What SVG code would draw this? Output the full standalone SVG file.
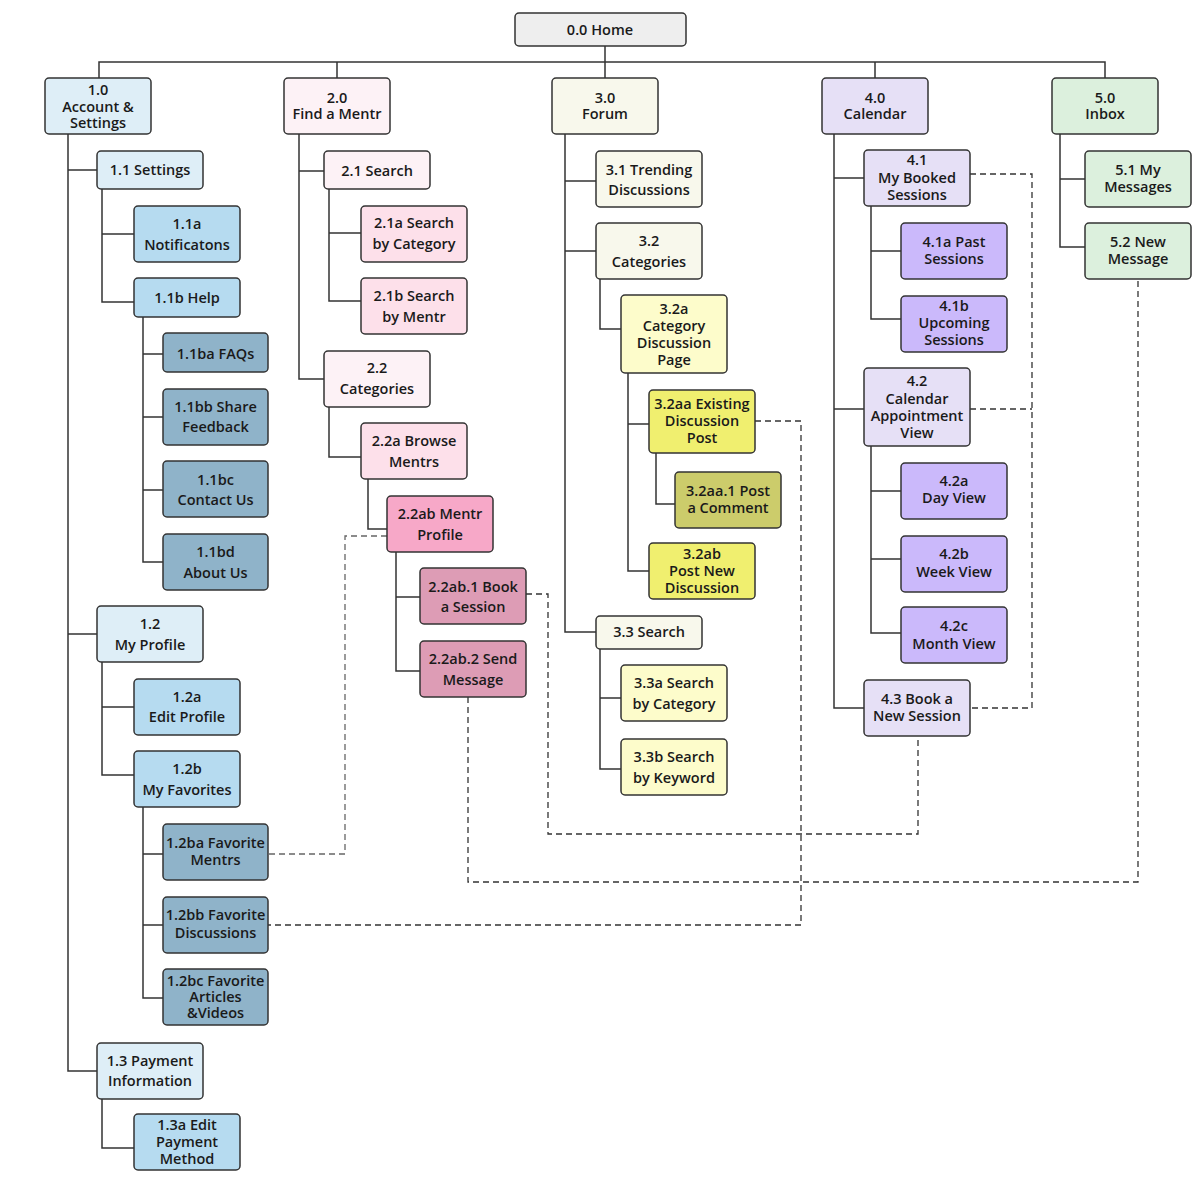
<svg xmlns="http://www.w3.org/2000/svg" width="1200" height="1200" viewBox="0 0 1200 1200">
<style>
g rect{stroke:#333;stroke-width:1.5}
text{font-family:"Open Sans","Noto Sans","Liberation Sans",sans-serif;font-size:14.5px;font-weight:600;fill:#1a1a1a;text-anchor:middle}
.home{fill:#eeeeee}
.b1{fill:#deeef7}.b2{fill:#b6dbf0}.b3{fill:#8fb3c9}
.p1{fill:#fdf2f6}.p2{fill:#fde0ea}.p3{fill:#f7a8c8}.p4{fill:#dd9cb5}
.y1{fill:#f8f8ec}.y2{fill:#fdfccb}.y3{fill:#f0ef6f}.y4{fill:#cccc6b}
.v1{fill:#e6e0f6}.v2{fill:#cbb9fb}
.g1{fill:#dcf0dd}
.solid{fill:none;stroke:#333;stroke-width:1.5}
.dash{fill:none;stroke:#333;stroke-width:1.3;stroke-dasharray:6 4}
.dashg{fill:none;stroke:#666;stroke-width:1.3;stroke-dasharray:6 4}
</style>
<rect x="0" y="0" width="1200" height="1200" fill="#ffffff"/>
<g id="connectors">
<path class="solid" d="M99 78V62H1105V78M337 62V78M605 46V78M875 62V78"/>
<path class="solid" d="M68 134V1071H97M68 170H97M68 634H97M102 189V302H134M102 234H134M143 317V562H163M143 354H163M143 417H163M143 490H163M102 662V775H134M102 707H134M143 807V998H163M143 854H163M143 925H163M102 1099V1148H134"/>
<path class="solid" d="M299 134V379H324M299 171H324M329 189V301H361M329 233H361M329 407V457H361M368 479V529H387M396 552V671H420M396 597H420"/>
<path class="solid" d="M565 134V632H596M565 181H596M565 251H596M600 279V329H621M628 373V571H649M628 424H649M656 453V504H675M600 649V769H621M600 698H621"/>
<path class="solid" d="M834 134V708H864M834 178H864M834 409H864M871 206V319H901M871 251H901M871 446V633H901M871 491H901M871 559H901"/>
<path class="solid" d="M1060 134V247H1085M1060 179H1085"/>
<path class="dash" d="M970 174H1032V708H970M970 409H1032"/>
<path class="dashg" d="M387 536H345V854H268"/>
<path class="dash" d="M755 421H801V925H268"/>
<path class="dash" d="M526 594H548V834H918V736"/>
<path class="dash" d="M468 697V882H1138V279"/>
</g>
<g id="n0"><rect class="home" x="515" y="13" width="171" height="33" rx="4"/><text x="600" y="35">0.0 Home</text></g>

<g id="n1"><rect class="b1" x="45" y="78" width="106" height="56" rx="4"/><text x="98" y="95">1.0</text><text x="98" y="111.5">Account &amp;</text><text x="98" y="128">Settings</text></g>
<g id="n1_1"><rect class="b1" x="97" y="151" width="106" height="38" rx="4"/><text x="150" y="175">1.1 Settings</text></g>
<g id="n1_1a"><rect class="b2" x="134" y="206" width="106" height="56" rx="4"/><text x="187" y="229">1.1a</text><text x="187" y="250">Notificatons</text></g>
<g id="n1_1b"><rect class="b2" x="134" y="278" width="106" height="39" rx="4"/><text x="187" y="303">1.1b Help</text></g>
<g id="n1_1ba"><rect class="b3" x="163" y="333" width="105" height="39" rx="4"/><text x="215.5" y="359">1.1ba FAQs</text></g>
<g id="n1_1bb"><rect class="b3" x="163" y="389" width="105" height="56" rx="4"/><text x="215.5" y="412">1.1bb Share</text><text x="215.5" y="432">Feedback</text></g>
<g id="n1_1bc"><rect class="b3" x="163" y="461" width="105" height="56" rx="4"/><text x="215.5" y="485">1.1bc</text><text x="215.5" y="505">Contact Us</text></g>
<g id="n1_1bd"><rect class="b3" x="163" y="534" width="105" height="56" rx="4"/><text x="215.5" y="557">1.1bd</text><text x="215.5" y="578">About Us</text></g>
<g id="n1_2"><rect class="b1" x="97" y="606" width="106" height="56" rx="4"/><text x="150" y="629">1.2</text><text x="150" y="650">My Profile</text></g>
<g id="n1_2a"><rect class="b2" x="134" y="679" width="106" height="56" rx="4"/><text x="187" y="702">1.2a</text><text x="187" y="722">Edit Profile</text></g>
<g id="n1_2b"><rect class="b2" x="134" y="751" width="106" height="56" rx="4"/><text x="187" y="774">1.2b</text><text x="187" y="795">My Favorites</text></g>
<g id="n1_2ba"><rect class="b3" x="163" y="824" width="105" height="56" rx="4"/><text x="215.5" y="848">1.2ba Favorite</text><text x="215.5" y="865">Mentrs</text></g>
<g id="n1_2bb"><rect class="b3" x="163" y="897" width="105" height="56" rx="4"/><text x="215.5" y="920">1.2bb Favorite</text><text x="215.5" y="938">Discussions</text></g>
<g id="n1_2bc"><rect class="b3" x="163" y="969" width="105" height="56" rx="4"/><text x="215.5" y="986">1.2bc Favorite</text><text x="215.5" y="1002">Articles</text><text x="215.5" y="1018">&amp;Videos</text></g>
<g id="n1_3"><rect class="b1" x="97" y="1043" width="106" height="56" rx="4"/><text x="150" y="1066">1.3 Payment</text><text x="150" y="1086">Information</text></g>
<g id="n1_3a"><rect class="b2" x="134" y="1114" width="106" height="56" rx="4"/><text x="187" y="1130">1.3a Edit</text><text x="187" y="1147">Payment</text><text x="187" y="1164">Method</text></g>

<g id="n2"><rect class="p1" x="284" y="78" width="106" height="56" rx="4"/><text x="337" y="103">2.0</text><text x="337" y="119">Find a Mentr</text></g>
<g id="n2_1"><rect class="p1" x="324" y="151" width="106" height="38" rx="4"/><text x="377" y="176">2.1 Search</text></g>
<g id="n2_1a"><rect class="p2" x="361" y="206" width="106" height="56" rx="4"/><text x="414" y="228">2.1a Search</text><text x="414" y="249">by Category</text></g>
<g id="n2_1b"><rect class="p2" x="361" y="278" width="106" height="56" rx="4"/><text x="414" y="301">2.1b Search</text><text x="414" y="322">by Mentr</text></g>
<g id="n2_2"><rect class="p1" x="324" y="351" width="106" height="56" rx="4"/><text x="377" y="373">2.2</text><text x="377" y="394">Categories</text></g>
<g id="n2_2a"><rect class="p2" x="361" y="423" width="106" height="56" rx="4"/><text x="414" y="446">2.2a Browse</text><text x="414" y="467">Mentrs</text></g>
<g id="n2_2ab"><rect class="p3" x="387" y="496" width="106" height="56" rx="4"/><text x="440" y="519">2.2ab Mentr</text><text x="440" y="540">Profile</text></g>
<g id="n2_2ab1"><rect class="p4" x="420" y="568" width="106" height="56" rx="4"/><text x="473" y="592">2.2ab.1 Book</text><text x="473" y="612">a Session</text></g>
<g id="n2_2ab2"><rect class="p4" x="420" y="641" width="106" height="56" rx="4"/><text x="473" y="664">2.2ab.2 Send</text><text x="473" y="685">Message</text></g>

<g id="n3"><rect class="y1" x="552" y="78" width="106" height="56" rx="4"/><text x="605" y="103">3.0</text><text x="605" y="119">Forum</text></g>
<g id="n3_1"><rect class="y1" x="596" y="151" width="106" height="56" rx="4"/><text x="649" y="175">3.1 Trending</text><text x="649" y="195">Discussions</text></g>
<g id="n3_2"><rect class="y1" x="596" y="223" width="106" height="56" rx="4"/><text x="649" y="246">3.2</text><text x="649" y="267">Categories</text></g>
<g id="n3_2a"><rect class="y2" x="621" y="295" width="106" height="78" rx="4"/><text x="674" y="314">3.2a</text><text x="674" y="331">Category</text><text x="674" y="348">Discussion</text><text x="674" y="365">Page</text></g>
<g id="n3_2aa"><rect class="y3" x="649" y="390" width="106" height="63" rx="4"/><text x="702" y="409">3.2aa Existing</text><text x="702" y="426">Discussion</text><text x="702" y="443">Post</text></g>
<g id="n3_2aa1"><rect class="y4" x="675" y="472" width="106" height="56" rx="4"/><text x="728" y="496">3.2aa.1 Post</text><text x="728" y="513">a Comment</text></g>
<g id="n3_2ab"><rect class="y3" x="649" y="543" width="106" height="56" rx="4"/><text x="702" y="559">3.2ab</text><text x="702" y="576">Post New</text><text x="702" y="593">Discussion</text></g>
<g id="n3_3"><rect class="y1" x="596" y="616" width="106" height="33" rx="4"/><text x="649" y="637">3.3 Search</text></g>
<g id="n3_3a"><rect class="y2" x="621" y="665" width="106" height="56" rx="4"/><text x="674" y="688">3.3a Search</text><text x="674" y="709">by Category</text></g>
<g id="n3_3b"><rect class="y2" x="621" y="739" width="106" height="56" rx="4"/><text x="674" y="762">3.3b Search</text><text x="674" y="783">by Keyword</text></g>

<g id="n4"><rect class="v1" x="822" y="78" width="106" height="56" rx="4"/><text x="875" y="103">4.0</text><text x="875" y="119">Calendar</text></g>
<g id="n4_1"><rect class="v1" x="864" y="150" width="106" height="56" rx="4"/><text x="917" y="165">4.1</text><text x="917" y="183">My Booked</text><text x="917" y="200">Sessions</text></g>
<g id="n4_1a"><rect class="v2" x="901" y="223" width="106" height="56" rx="4"/><text x="954" y="247">4.1a Past</text><text x="954" y="264">Sessions</text></g>
<g id="n4_1b"><rect class="v2" x="901" y="296" width="106" height="56" rx="4"/><text x="954" y="311">4.1b</text><text x="954" y="328">Upcoming</text><text x="954" y="345">Sessions</text></g>
<g id="n4_2"><rect class="v1" x="864" y="368" width="106" height="78" rx="4"/><text x="917" y="386">4.2</text><text x="917" y="404">Calendar</text><text x="917" y="421">Appointment</text><text x="917" y="438">View</text></g>
<g id="n4_2a"><rect class="v2" x="901" y="463" width="106" height="56" rx="4"/><text x="954" y="486">4.2a</text><text x="954" y="503">Day View</text></g>
<g id="n4_2b"><rect class="v2" x="901" y="536" width="106" height="56" rx="4"/><text x="954" y="559">4.2b</text><text x="954" y="577">Week View</text></g>
<g id="n4_2c"><rect class="v2" x="901" y="607" width="106" height="56" rx="4"/><text x="954" y="631">4.2c</text><text x="954" y="649">Month View</text></g>
<g id="n4_3"><rect class="v1" x="864" y="680" width="106" height="56" rx="4"/><text x="917" y="704">4.3 Book a</text><text x="917" y="721">New Session</text></g>

<g id="n5"><rect class="g1" x="1052" y="78" width="106" height="56" rx="4"/><text x="1105" y="103">5.0</text><text x="1105" y="119">Inbox</text></g>
<g id="n5_1"><rect class="g1" x="1085" y="151" width="106" height="56" rx="4"/><text x="1138" y="175">5.1 My</text><text x="1138" y="192">Messages</text></g>
<g id="n5_2"><rect class="g1" x="1085" y="223" width="106" height="56" rx="4"/><text x="1138" y="247">5.2 New</text><text x="1138" y="264">Message</text></g>
</svg>
